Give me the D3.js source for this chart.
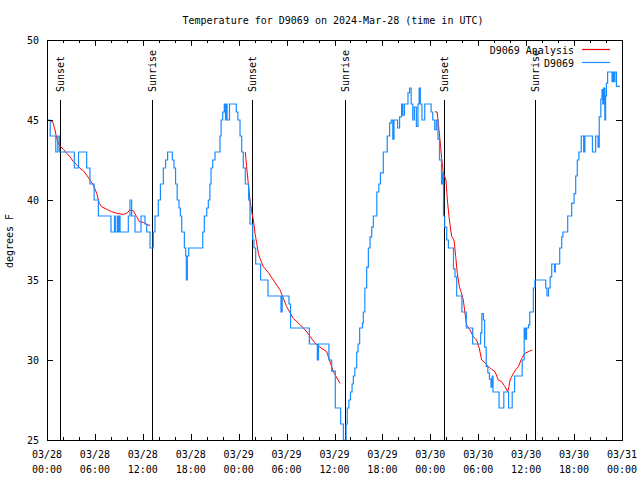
<!DOCTYPE html>
<html>
<head>
<meta charset="utf-8">
<script src="https://cdn.jsdelivr.net/npm/d3@7"></script>
<style>
  html, body { margin: 0; padding: 0; background: #fff; }
  svg text { font-family: "DejaVu Sans Mono", "Liberation Mono", monospace; font-size: 10px; fill: #000; }
</style>
</head>
<body>
<svg id="chart" width="640" height="480"></svg>
<script>
// ---------- DATA ----------
const titleText = "Temperature for D9069 on 2024-Mar-28 (time in UTC)";
const yLabelText = "degrees F";
const yTicks = [25, 30, 35, 40, 45, 50];

// Observed D9069 temperature (hours after 2024-03-28 00:00 UTC, degF), step changes
const obsHours = [0,0.4,1.1,1.35,1.55,3.42,3.95,4.97,5.38,5.9,6.43,8.01,8.45,8.55,8.8,8.9,9.05,9.15,10.18,10.39,10.6,11.02,11.77,12.27,12.48,12.9,
  13.31,13.52,13.94,14.2,14.57,14.85,15.1,15.69,15.9,16.1,16.3,16.53,16.7,16.87,17.2,17.37,17.45,17.57,17.74,19.5,19.7,20.0,20.2,20.4,20.54,20.75,21.04,21.66,21.8,22.0,22.2,22.35,22.45,22.55,22.7,22.85,23.7,23.9,24.17,24.38,24.58,24.83,
  25.25,25.42,25.76,25.92,26.13,26.75,27.67,29.3,29.45,30.3,30.5,32.85,33.85,34.0,35.3,35.65,36.1,36.77,37.11,
  37.45,37.6,37.8,38.0,38.2,38.36,38.55,38.78,38.95,39.15,39.5,39.61,39.8,40.03,40.24,40.45,40.66,40.86,41.3,41.55,41.75,42.11,42.6,42.9,43.1,43.3,43.45,43.9,44.15,44.4,44.55,44.75,45.2,45.4,45.6,45.8,46.0,46.25,46.45,46.6,46.75,46.95,47.3,48.1,48.3,48.55,48.75,48.95,49.15,49.4,49.55,49.65,49.8,50.05,50.26,50.9,51.09,51.3,51.95,52.5,53.3,54.3,54.45,54.65,54.8,55.0,55.2,55.4,55.6,55.75,55.85,56.6,57.2,57.8,58.25,58.55,59.5,59.75,59.9,60.05,60.3,60.45,60.9,61.1,
  62.45,62.6,62.8,63.0,63.2,63.55,63.65,64.2,64.45,64.6,65.2,65.7,66.0,66.2,66.4,66.6,66.9,67.2,67.35,68.3,68.7,69.0,69.15,69.35,69.5,69.6,69.7,69.85,69.95,70.05,70.2,70.75,70.85,71.0,71.1,71.3,71.75];
const obsTemps = [45,44,43,44,43,42,43,42,41,40,39,38,39,38,39,38,39,38,39,40,39,38,39,38.5,38,37,
  38,39,40,41,42,42.5,43,42.5,42,41,40,39.5,39,38,37,36.5,35,36.5,37,38,39,39.5,40,41,42,42.5,43,44,45,45.5,46,45,46,45,45,46,45.5,45,44,43,42,41,
  40,38.5,37.5,37,36,35,34,33,34,33.5,32,31,30,31,30,29.3,27,26,25,
  26,27,27.5,28,28.5,29,29.5,30.5,31,32,32.3,33,34.5,35.8,37,37.7,38.3,39,40.5,41,41.7,43,44,44.8,45,43.8,45,44.5,45.2,46,45.3,46,46.7,47,46,45,45.8,44.6,46,47,46,45,46,45.5,45,44.4,45,43.8,42.5,41,41.7,39,38.3,37.5,37,35.7,35.2,34,33,32,31,31.7,32.9,32.5,30.8,29.6,29.2,28.8,28.3,29,28,27,28,27,28,29,30,32,31.3,32,32.2,33,34.5,35,
  34.5,34,34.5,35.2,36,35.5,36,37,37.7,38,39,39.8,40.4,41.5,42.5,43,44,43,44,43,44,43.3,45.2,46.3,46.9,46,47,45,46.5,47.3,48,47.4,48,47.4,48,47.1,47.1];

// Analysis (three overnight segments, null = gap)
const anaHours = [0.38,0.71,1.0,1.21,1.42,1.71,2.05,2.46,2.88,3.3,3.71,4.13,4.55,4.97,5.38,5.8,6.22,6.55,6.85,7.47,8.1,8.72,9.56,9.98,10.39,10.8,11.22,11.56,12.06,12.48,12.9, null,
  24.83,25.0,25.2,25.42,25.63,25.84,26.05,26.26,26.46,26.67,27.09,27.72,28.34,29.18,30.01,30.84,31.7,32.51,33.2,33.77,35.02,35.86,36.69, null,
  48.58,48.85,49.0,49.21,49.42,49.63,49.96,50.13,50.34,50.55,50.68,50.96,51.18,51.38,51.63,51.84,52.13,52.34,52.55,52.97,53.38,53.8,54.13,54.43,54.84,55.26,55.68,56.1,56.51,56.93,57.35,57.68,57.85,57.98,58.4,58.73,59.02,59.44,59.85,60.27,60.77];
const anaTemps = [44.9,44.9,44.38,43.85,43.54,43.33,43.17,42.92,42.7,42.4,42.2,41.98,41.83,41.56,41.25,40.94,40.42,39.79,39.58,39.42,39.27,39.17,39.1,39.17,39.38,39.33,38.96,38.65,38.6,38.48,38.4, null,
  43.0,42.08,41.04,40.0,39.27,38.75,37.92,37.29,36.67,36.35,35.83,35.46,35.0,34.38,33.33,32.6,32.2,31.77,31.3,30.94,30.52,29.27,28.54, null,
  45.52,45.5,44.8,43.75,42.6,41.67,41.25,40.0,38.96,38.13,37.71,37.5,36.46,35.42,34.58,34.27,33.75,32.92,32.19,31.88,31.46,31.25,30.73,30.0,29.83,29.58,29.42,29.27,28.75,28.65,28.33,28.02,28.33,28.75,29.17,29.42,29.58,30.1,30.42,30.52,30.63];

// Sunset / sunrise markers (hours after start)
const eventHours = [1.67, 13.19, 25.71, 37.28, 49.67, 61.15];
const eventLabels = ["Sunset", "Sunrise", "Sunset", "Sunrise", "Sunset", "Sunrise"];

const seriesNames = ["D9069 Analysis", "D9069"];
const seriesColors = ["#ff0000", "#1a8cff"];

// ---------- CHART ----------
const t0 = Date.UTC(2024, 2, 28, 0, 0);
const toDate = h => new Date(t0 + h * 3600000);

const pL = 47, pR = 622, pT = 40, pB = 440;
const x = d3.scaleUtc().domain([toDate(0), toDate(72)]).range([pL, pR]);
const y = d3.scaleLinear().domain([25, 50]).range([pB, pT]);

const svg = d3.select("#chart");

// title
svg.append("text").attr("x", 333).attr("y", 24).attr("text-anchor", "middle").text(titleText);

// y label
svg.append("text")
  .attr("transform", "translate(13,241) rotate(-90)")
  .attr("text-anchor", "middle").text(yLabelText);

const g = svg.append("g");

// event lines
const ev = g.append("g");
eventHours.forEach((h, i) => {
  const xx = Math.round(x(toDate(h))) + 0.5;
  ev.append("line").attr("x1", xx).attr("x2", xx).attr("y1", 100).attr("y2", pB)
    .attr("stroke", "#000").attr("stroke-width", 1);
  ev.append("text")
    .attr("transform", `translate(${xx},92) rotate(-90)`)
    .attr("dominant-baseline", "central")
    .attr("text-anchor", "start").text(eventLabels[i]);
});

// analysis (red)
const ana = anaHours.map((h, i) => ({h, v: anaTemps[i]}));
g.append("path")
  .datum(ana)
  .attr("fill", "none").attr("stroke", seriesColors[0]).attr("stroke-width", 1)
  .attr("d", d3.line().defined(d => d.h !== null && d.v !== null)
    .x(d => x(toDate(d.h))).y(d => y(d.v)));

// observations (blue, steps)
const obs = obsHours.map((h, i) => ({h, v: obsTemps[i]}));
g.append("path")
  .datum(obs)
  .attr("fill", "none").attr("stroke", seriesColors[1]).attr("stroke-width", 1.2)
  .attr("d", d3.line().curve(d3.curveStepAfter).x(d => x(toDate(d.h))).y(d => y(d.v)));

// axes frame
const ax = svg.append("g");
ax.append("rect").attr("x", pL + 0.5).attr("y", pT + 0.5)
  .attr("width", pR - pL).attr("height", pB - pT)
  .attr("fill", "none").attr("stroke", "#000");

// x ticks (major 6h, minor 2h), top and bottom, inward
const minorTicks = x.ticks(d3.utcHour.every(2));
minorTicks.forEach(d => {
  const isMajor = d.getUTCHours() % 6 === 0;
  const len = isMajor ? 6 : 3;
  const xx = Math.round(x(d)) + 0.5;
  ax.append("line").attr("x1", xx).attr("x2", xx).attr("y1", pB).attr("y2", pB - len).attr("stroke", "#000");
  ax.append("line").attr("x1", xx).attr("x2", xx).attr("y1", pT).attr("y2", pT + len).attr("stroke", "#000");
});
const fmtDay = d3.utcFormat("%m/%d"), fmtTime = d3.utcFormat("%H:%M");
x.ticks(d3.utcHour.every(6)).forEach(d => {
  const xx = x(d);
  const t = ax.append("text").attr("text-anchor", "middle");
  t.append("tspan").attr("x", xx).attr("y", 458).text(fmtDay(d));
  t.append("tspan").attr("x", xx).attr("y", 473).text(fmtTime(d));
});

// y ticks
yTicks.forEach(v => {
  const yy = Math.round(y(v)) + 0.5;
  ax.append("line").attr("x1", pL).attr("x2", pL + 6).attr("y1", yy).attr("y2", yy).attr("stroke", "#000");
  ax.append("line").attr("x1", pR - 6).attr("x2", pR).attr("y1", yy).attr("y2", yy).attr("stroke", "#000");
  ax.append("text").attr("x", 39).attr("y", y(v)).attr("dominant-baseline", "central")
    .attr("text-anchor", "end").text(v);
});

// legend
seriesNames.forEach((name, i) => {
  const ly = 50 + i * 13;
  svg.append("text").attr("x", 574).attr("y", ly).attr("dominant-baseline", "central")
    .attr("text-anchor", "end").text(name);
  svg.append("line").attr("x1", 582).attr("x2", 610).attr("y1", ly - 0.5).attr("y2", ly - 0.5)
    .attr("stroke", seriesColors[i]).attr("stroke-width", 1.2);
});
</script>
</body>
</html>
